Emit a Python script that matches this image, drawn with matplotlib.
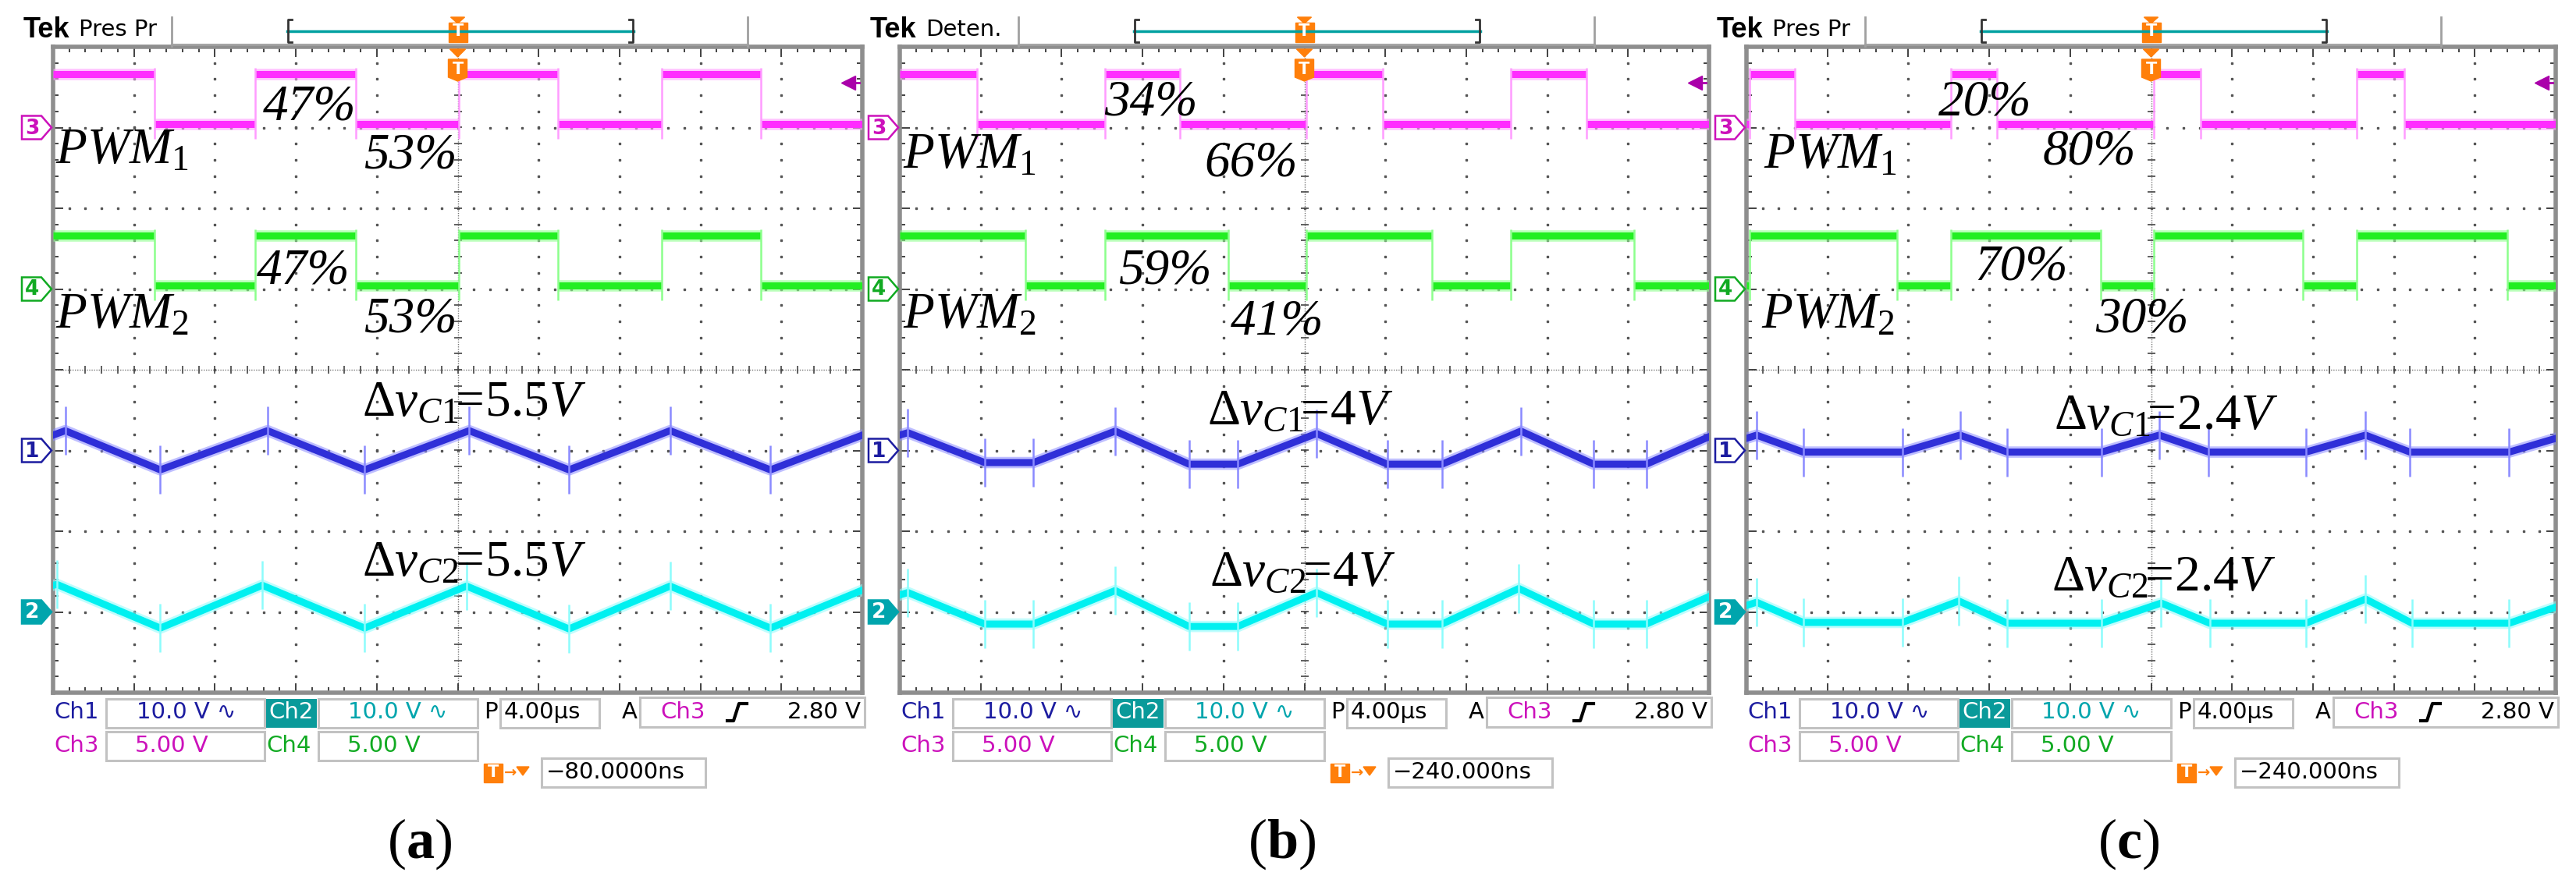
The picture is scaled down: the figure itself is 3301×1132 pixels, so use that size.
import matplotlib
matplotlib.use('Agg')
import matplotlib.pyplot as plt
from matplotlib.patches import Rectangle, Polygon
from matplotlib.ticker import MultipleLocator
import numpy as np

plt.rcParams['mathtext.fontset'] = 'custom'
plt.rcParams['mathtext.rm'] = 'Liberation Serif'
plt.rcParams['mathtext.it'] = 'Liberation Serif:italic'
plt.rcParams['mathtext.bf'] = 'Liberation Serif:bold'

# ---------------- data (time in us, 4 us/div) ----------------
# PWM edge times; level toggles at each edge
pwm1_a = [-15.0, -10.0, -5.05, 0.05, 4.95, 10.1, 15.0]
pwm2_a = [-15.0, -10.0, -5.05, 0.05, 4.95, 10.1, 15.0]
pwm1_b = [-16.2, -9.86, -6.16, 0.1, 3.86, 10.2, 13.95]
pwm2_b = [-13.8, -9.86, -3.78, 0.1, 6.32, 10.2, 16.28]
pwm1_c = [-19.85, -17.6, -9.9, -7.6, 0.13, 2.46, 10.17, 12.5]
pwm2_c = [-19.85, -12.56, -9.9, -2.5, 0.13, 7.5, 10.17, 17.6]
pwm_start_high = [True, True, False]

PWM_HIGH = 3.3   # V
PWM_LOW = 0.2    # V

# capacitor ripple (AC coupled, V)
vc1_a_t = [-20.0, -19.4, -14.7, -9.4, -4.6, 0.57, 5.5, 10.5, 15.46, 20.0]
vc1_a_v = [1.9, 2.45, -2.4, 2.45, -2.4, 2.45, -2.4, 2.45, -2.4, 1.9]
vc2_a_t = [-20.0, -19.8, -14.7, -9.66, -4.6, 0.44, 5.5, 10.5, 15.46, 20.0]
vc2_a_v = [3.3, 3.4, -2.0, 3.3, -2.0, 3.2, -2.1, 3.2, -2.0, 2.7]

vc1_b_t = [-20.0, -19.6, -15.8, -13.4, -9.35, -5.7, -3.3, 0.6, 4.1, 6.8, 10.7, 14.3, 16.9, 20.0]
vc1_b_v = [1.9, 2.2, -1.5, -1.5, 2.4, -1.7, -1.7, 2.1, -1.7, -1.7, 2.4, -1.7, -1.7, 1.7]
vc2_b_t = [-20.0, -19.6, -15.8, -13.4, -9.35, -5.7, -3.3, 0.6, 4.1, 6.8, 10.6, 14.3, 16.9, 20.0]
vc2_b_v = [2.1, 2.4, -1.5, -1.5, 2.65, -1.8, -1.8, 2.4, -1.5, -1.5, 2.9, -1.5, -1.5, 1.9]

vc1_c_t = [-20.0, -19.5, -17.2, -12.3, -9.45, -7.1, -2.45, 0.4, 2.85, 7.65, 10.6, 12.8, 17.7, 20.0]
vc1_c_v = [1.5, 1.9, -0.2, -0.2, 1.9, -0.2, -0.2, 1.9, -0.2, -0.2, 1.9, -0.2, -0.2, 1.5]
vc2_c_t = [-20.0, -19.5, -17.2, -12.3, -9.5, -7.1, -2.45, 0.5, 2.9, 7.65, 10.6, 12.9, 17.7, 20.0]
vc2_c_v = [0.8, 1.2, -1.3, -1.3, 1.35, -1.4, -1.4, 1.1, -1.4, -1.4, 1.6, -1.4, -1.4, 0.6]

# channel ground marker (div from centre) and scale (V/div)
CH_OFFSET = {1: -1.0, 2: -3.0, 3: 3.0, 4: 1.0}
CH_SCALE = {1: 10.0, 2: 10.0, 3: 5.0, 4: 5.0}
TRIG_LEVEL = 2.80

# text on the pictures
panel_tags = ['a', 'b', 'c']
status_names = ['Pres Pr', 'Deten.', 'Pres Pr']
trig_offsets = ['\u221280.0000ns', '\u2212240.000ns', '\u2212240.000ns']
duty_labels = [['47%', '53%', '47%', '53%'],
               ['34%', '66%', '59%', '41%'],
               ['20%', '80%', '70%', '30%']]
ripple_labels = [['5.5V', '5.5V'], ['4V', '4V'], ['2.4V', '2.4V']]

# label positions (us, div, baseline)
duty_pos = [[(-9.64, 3.1), (-4.6, 2.5), (-9.92, 1.07), (-4.6, 0.47)],
            [(-9.88, 3.15), (-4.96, 2.4), (-9.16, 1.07), (-3.64, 0.44)],
            [(-10.52, 3.15), (-5.36, 2.55), (-8.72, 1.12), (-2.76, 0.47)]]
pwm_lab_pos = [[(-19.9, 2.56), (-19.9, 0.52)],
               [(-19.84, 2.5), (-19.84, 0.52)],
               [(-19.16, 2.5), (-19.28, 0.52)]]
ripple_pos = [[(-4.72, -0.57), (-4.72, -2.55)],
              [(-4.8, -0.68), (-4.68, -2.68)],
              [(-4.8, -0.73), (-4.92, -2.73)]]
tag_x = [470, 490, 490]

pwm1_all = [pwm1_a, pwm1_b, pwm1_c]
pwm2_all = [pwm2_a, pwm2_b, pwm2_c]
vc1_all = [(vc1_a_t, vc1_a_v), (vc1_b_t, vc1_b_v), (vc1_c_t, vc1_c_v)]
vc2_all = [(vc2_a_t, vc2_a_v), (vc2_b_t, vc2_b_v), (vc2_c_t, vc2_c_v)]

# ---------------- layout ----------------
W, H = 3301, 1132
PANEL_LEFT = [68, 1153, 2238]
PANEL_W = 1037
TOP, BOT = 60, 888
DIV_Y = (BOT - TOP) / 8.0

C_MAG = '#ff2cff'
C_MAG_L = '#ff9cff'
C_GRN = '#22ee22'
C_GRN_L = '#8cff8c'
C_BLU = '#2f2fd8'
C_BLU_L = '#8a8aff'
C_CYN = '#00f0f0'
C_CYN_L = '#8cfcfc'
C_ORANGE = '#ff7f0a'
TXT_CH = {1: '#1c1ca0', 2: '#00a5ad', 3: '#cc11bb', 4: '#11aa22'}

fig = plt.figure(figsize=(W / 100, H / 100), dpi=100)
fig.patch.set_facecolor('white')

ov = fig.add_axes([0, 0, 1, 1], zorder=5)
ov.set_xlim(0, W)
ov.set_ylim(H, 0)
ov.axis('off')


def pwm_levels(edges, start_high):
    bounds = [-20.0] + list(edges) + [20.0]
    states = [(k % 2 == 0) == start_high for k in range(len(bounds) - 1)]
    return bounds[:-1], bounds[1:], states


def draw_pwm(ax, edges, start_high, ch, color, light):
    off, sc = CH_OFFSET[ch], CH_SCALE[ch]
    x0, x1, st = pwm_levels(edges, start_high)
    lv = [off + (PWM_HIGH if s else PWM_LOW) / sc for s in st]
    ax.hlines(lv, x0, x1, color=light, lw=10.5, alpha=0.6, zorder=3)
    ax.hlines(lv, x0, x1, color=color, lw=6.5, zorder=4)
    ax.vlines(edges, off + (PWM_LOW - 0.9) / sc, off + (PWM_HIGH + 0.4) / sc,
              color=light, lw=1.8, zorder=4)


def draw_cap(ax, t, v, ch, color, light):
    off, sc = CH_OFFSET[ch], CH_SCALE[ch]
    y = off + np.array(v) / sc
    ax.plot(t, y, color=light, lw=10.5, alpha=0.55, zorder=3)
    ax.plot(t, y, color=color, lw=6.5, zorder=4)
    ax.vlines(t[1:-1], y[1:-1] - 0.3, y[1:-1] + 0.3, color=light, lw=1.8, zorder=4)


def ch_marker(L, ch, filled=False):
    yc = TOP + (4 - CH_OFFSET[ch]) * DIV_Y
    col = TXT_CH[ch]
    pts = [(L - 40, yc - 15), (L - 15, yc - 15), (L - 2, yc), (L - 15, yc + 15), (L - 40, yc + 15)]
    ov.add_patch(Polygon(pts, closed=True, facecolor=col if filled else 'white',
                         edgecolor=col, lw=1.8))
    ov.text(L - 27, yc + 1, str(ch), color='white' if filled else col, fontsize=19,
            fontweight='bold', ha='center', va='center', family='DejaVu Sans')


def box(x0, y0, x1, y1, fc='none', ec='#c2c2c2'):
    ov.add_patch(Rectangle((x0, y0), x1 - x0, y1 - y0, facecolor=fc, edgecolor=ec, lw=2.2))


def t_badge(cx, y0, y1, tip=True):
    pts = [(cx - 12, y0), (cx + 12, y0), (cx + 12, y1 - 5), (cx, y1), (cx - 12, y1 - 5)] if tip else \
          [(cx - 12, y0), (cx + 12, y0), (cx + 12, y1), (cx - 12, y1)]
    ov.add_patch(Polygon(pts, closed=True, facecolor=C_ORANGE, edgecolor=C_ORANGE, lw=1))
    ov.text(cx, (y0 + y1) / 2 - 1, 'T', color='white', fontsize=15, fontweight='bold',
            ha='center', va='center', family='DejaVu Sans')


RO = dict(family='DejaVu Sans', fontsize=21, va='center')

for i in range(3):
    L = PANEL_LEFT[i]
    R = L + PANEL_W
    cx = L + PANEL_W / 2
    ax = fig.add_axes([L / W, 1 - BOT / H, PANEL_W / W, (BOT - TOP) / H], zorder=1)
    ax.set_xlim(-20, 20)
    ax.set_ylim(-4, 4)
    for s in ax.spines.values():
        s.set_color('#8e8e8e')
        s.set_linewidth(4)
    ax.xaxis.set_major_locator(MultipleLocator(4))
    ax.xaxis.set_minor_locator(MultipleLocator(0.8))
    ax.yaxis.set_major_locator(MultipleLocator(1))
    ax.yaxis.set_minor_locator(MultipleLocator(0.2))
    ax.tick_params(which='both', direction='in', top=True, right=True, bottom=True, left=True,
                   labelbottom=False, labelleft=False, color='#333333', width=1.3)
    ax.tick_params(which='major', length=9)
    ax.tick_params(which='minor', length=5)

    # graticule
    dy = np.arange(-4, 4.001, 0.2)
    dx = np.arange(-20, 20.001, 0.8)
    for xv in [-16, -12, -8, -4, 4, 8, 12, 16]:
        ax.plot(np.full_like(dy, xv), dy, ls='none', marker='s', ms=1.6, color='#555555', zorder=1)
    for yv in [-3, -2, -1, 1, 2, 3]:
        ax.plot(dx, np.full_like(dx, yv), ls='none', marker='s', ms=1.6, color='#555555', zorder=1)
    ax.axhline(0, color='#777777', lw=1.0, ls=(0, (1, 1.2)), zorder=1)
    ax.axvline(0, color='#777777', lw=1.0, ls=(0, (1, 1.2)), zorder=1)
    ax.plot(dx, np.zeros_like(dx), ls='none', marker='|', ms=7, mew=1.2, color='#444444', zorder=1)
    ax.plot(np.zeros_like(dy), dy, ls='none', marker='_', ms=7, mew=1.2, color='#444444', zorder=1)

    # traces
    draw_cap(ax, vc2_all[i][0], vc2_all[i][1], 2, C_CYN, C_CYN_L)
    draw_cap(ax, vc1_all[i][0], vc1_all[i][1], 1, C_BLU, C_BLU_L)
    draw_pwm(ax, pwm2_all[i], pwm_start_high[i], 4, C_GRN, C_GRN_L)
    draw_pwm(ax, pwm1_all[i], pwm_start_high[i], 3, C_MAG, C_MAG_L)

    # trigger level arrow
    ty = CH_OFFSET[3] + TRIG_LEVEL / CH_SCALE[3]
    ax.plot([19.3, 19.85], [ty, ty], color='#aa00aa', lw=2, zorder=6, clip_on=False)
    ax.plot([19.3], [ty], marker='<', ms=13, color='#aa00aa', zorder=6, clip_on=False)

    # annotations
    tf = dict(family='Liberation Serif', style='italic', fontsize=47, color='black',
              va='baseline', ha='left', zorder=10)
    for lab, (x, y) in zip(duty_labels[i], duty_pos[i]):
        ax.text(x, y, lab, **tf)
    ax.text(pwm_lab_pos[i][0][0], pwm_lab_pos[i][0][1], r'$\mathit{PWM}_{\mathit{1}}$',
            fontsize=47, va='baseline', ha='left', zorder=10)
    ax.text(pwm_lab_pos[i][1][0], pwm_lab_pos[i][1][1], r'$\mathit{PWM}_{\mathit{2}}$',
            fontsize=47, va='baseline', ha='left', zorder=10)
    for k in range(2):
        val = ripple_labels[i][k]
        ax.text(ripple_pos[i][k][0], ripple_pos[i][k][1],
                r'$\Delta v_{\mathit{C%d}}\!\!=\!\mathit{%s}$' % (k + 1, val),
                fontsize=47, va='baseline', ha='left', zorder=10)

    # header
    ov.text(L - 38, 38, 'Tek', family='Liberation Sans', fontweight='bold', fontsize=26, va='center')
    ov.text(L + 33, 38, status_names[i], family='DejaVu Sans', fontsize=21, va='center')
    ov.plot([L + 152, L + 152], [22, 59], color='#a0a0a0', lw=2)
    ov.plot([L + 890, L + 890], [22, 59], color='#a0a0a0', lw=2)
    ov.plot([L + 152, L + 890], [57, 57], color='#a0a0a0', lw=2)
    ov.plot([L + 300, L + 744], [40, 40], color='#00a0a0', lw=2.5)
    ov.plot([L + 306, L + 301, L + 301, L + 306], [25, 25, 54, 54], color='#333333', lw=2)
    ov.plot([L + 738, L + 743, L + 743, L + 738], [25, 25, 54, 54], color='#333333', lw=2)
    ov.add_patch(Polygon([(cx - 9, 22), (cx + 9, 22), (cx, 30)], closed=True,
                         facecolor=C_ORANGE, edgecolor=C_ORANGE))
    t_badge(cx, 29, 54, tip=False)
    ov.add_patch(Polygon([(cx - 10, 63), (cx + 10, 63), (cx, 73)], closed=True,
                         facecolor=C_ORANGE, edgecolor=C_ORANGE))
    t_badge(cx, 76, 104, tip=True)

    # channel ground markers
    ch_marker(L, 3)
    ch_marker(L, 4)
    ch_marker(L, 1)
    ch_marker(L, 2, filled=True)

    # readout rows
    y1, y2 = 913, 956
    ov.text(L + 1, y1, 'Ch1', color=TXT_CH[1], **RO)
    box(L + 68, 896, L + 271, 933)
    ov.text(L + 107, y1, '10.0 V \u223f', color=TXT_CH[1], **RO)
    ov.add_patch(Rectangle((L + 273, 896), 65, 37, facecolor='#0a9a9a', edgecolor='none'))
    ov.text(L + 276, y1, 'Ch2', color='white', **RO)
    box(L + 340, 896, L + 544, 933)
    ov.text(L + 378, y1, '10.0 V \u223f', color=TXT_CH[2], **RO)
    ov.text(L + 552, y1, 'P', color='black', **RO)
    box(L + 573, 896, L + 700, 933)
    ov.text(L + 578, y1, '4.00\u00b5s', color='black', **RO)
    ov.text(L + 729, y1, 'A', color='black', **RO)
    box(L + 752, 894, L + 1040, 932)
    ov.text(L + 778, y1, 'Ch3', color=TXT_CH[3], **RO)
    ov.plot([L + 864, L + 872, L + 879, L + 889], [924, 924, 902, 902], color='black', lw=3)
    ov.text(L + 1035, y1, '2.80 V', color='black', ha='right', family='DejaVu Sans',
            fontsize=21, va='center')

    ov.text(L + 1, y2, 'Ch3', color=TXT_CH[3], **RO)
    box(L + 68, 938, L + 271, 975)
    ov.text(L + 105, y2, '5.00 V', color=TXT_CH[3], **RO)
    ov.text(L + 273, y2, 'Ch4', color=TXT_CH[4], **RO)
    box(L + 340, 938, L + 544, 975)
    ov.text(L + 377, y2, '5.00 V', color=TXT_CH[4], **RO)

    # trigger offset row
    t_badge(L + 564, 979, 1003, tip=False)
    ov.text(L + 586, 990, '\u2192', color=C_ORANGE, family='DejaVu Sans', fontsize=14,
            va='center', ha='center', fontweight='bold')
    ov.add_patch(Polygon([(L + 594, 983), (L + 610, 983), (L + 602, 994)], closed=True,
                         facecolor=C_ORANGE, edgecolor=C_ORANGE))
    box(L + 626, 972, L + 836, 1009)
    ov.text(L + 632, 990, trig_offsets[i], color='black', **RO)

    # sub-figure tag
    ov.text(L + tag_x[i], 1082, r'$(\mathbf{%s})$' % panel_tags[i], fontsize=52,
            ha='center', va='center')

fig.savefig('out.png', dpi=100, facecolor='white')
